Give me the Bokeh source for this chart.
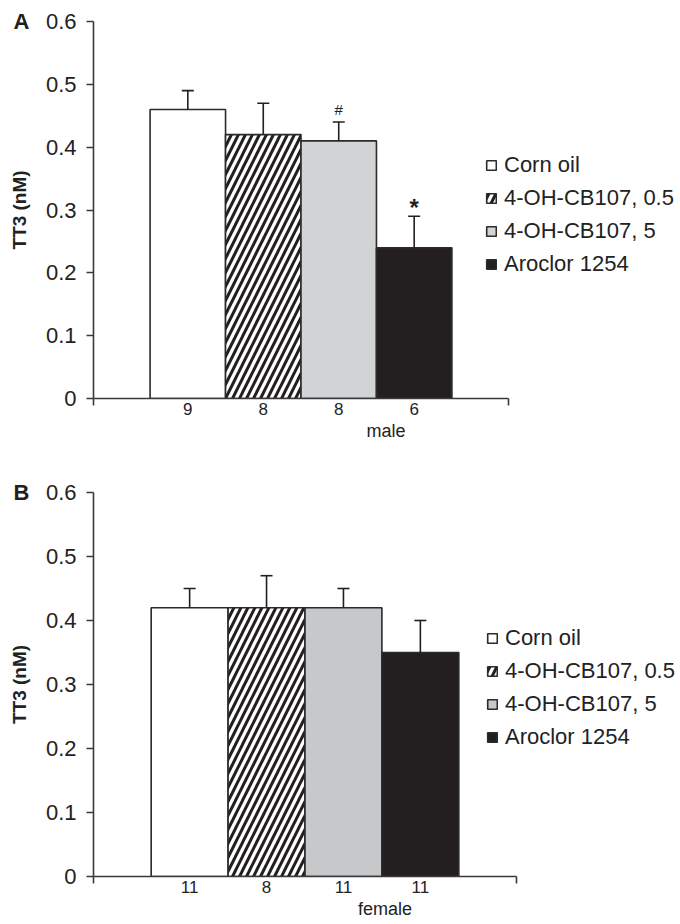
from bokeh.plotting import figure
from bokeh.models import (Range1d, FixedTicker, Legend, LegendItem,
                          LinearAxis, Whisker, TeeHead, ColumnDataSource)
from bokeh.layouts import column
from bokeh.embed import file_html
from bokeh.resources import INLINE
from bokeh.core.properties import value

groups = ["Corn oil", "4-OH-CB107, 0.5", "4-OH-CB107, 5", "Aroclor 1254"]
male_mean = [0.46, 0.42, 0.41, 0.24]
male_se = [0.03, 0.05, 0.03, 0.05]
male_n = ["9", "8", "8", "6"]
male_sig = ["", "", "#", "*"]
female_mean = [0.42, 0.42, 0.42, 0.35]
female_se = [0.03, 0.05, 0.03, 0.05]
female_n = ["11", "8", "11", "11"]
female_sig = ["", "", "", ""]
y_ticks = [0, 0.1, 0.2, 0.3, 0.4, 0.5, 0.6]

FONT = "Liberation Sans"
INK = "#231f20"
AXC = "#3a3a3a"
TXT = "#222222"
FIG_W = 676


def make_panel(letter, sex, mean, se, n, sig, gray, b_top, b_bottom, b_left,
               axis_px, frame_h, legend_xy):
    frame_w = FIG_W - b_left
    n_units = len(groups) + 1.5
    x_end = n_units * frame_w / axis_px
    p = figure(frame_width=frame_w, frame_height=frame_h,
               output_backend="svg", toolbar_location=None,
               x_range=Range1d(0, x_end), y_range=Range1d(0, 0.6),
               min_border_top=b_top, min_border_bottom=b_bottom,
               min_border_left=b_left, min_border_right=0)
    p.outline_line_color = None
    p.xgrid.visible = False
    p.ygrid.visible = False

    xs = [i + 1.25 for i in range(len(groups))]
    fills = ["white", "white", gray, INK]
    hatches = [None, "/", None, None]
    items = []
    for i, g in enumerate(groups):
        kw = dict(fill_color=fills[i], line_color="#2b2b2b", line_width=1.6)
        if hatches[i]:
            kw.update(hatch_pattern=hatches[i], hatch_color=INK,
                      hatch_scale=14, hatch_weight=3)
        r = p.vbar(x=[xs[i]], top=[mean[i]], bottom=0, width=1, **kw)
        items.append(LegendItem(label=g, renderers=[r]))

    upper = [m + s for m, s in zip(mean, se)]
    src = ColumnDataSource(dict(base=xs, lower=mean, upper=upper))
    w = Whisker(source=src, base="base", lower="lower", upper="upper",
                dimension="height", line_color=INK, line_width=1.6,
                lower_head=None,
                upper_head=TeeHead(size=12, line_color=INK, line_width=1.6),
                level="overlay")
    p.add_layout(w)

    hx = [x for x, s in zip(xs, sig) if s == "#"]
    hy = [u for u, s in zip(upper, sig) if s == "#"]
    if hx:
        p.text(x=hx, y=hy, text=["#"] * len(hx), text_align="center",
               text_baseline="bottom", y_offset=-4,
               text_font=value(FONT), text_font_size="15px", text_color=INK)
    sx = [x for x, s in zip(xs, sig) if s == "*"]
    sy = [u for u, s in zip(upper, sig) if s == "*"]
    if sx:
        p.text(x=sx, y=sy, text=["*"] * len(sx), text_align="center",
               text_baseline="bottom", y_offset=5,
               text_font=value(FONT), text_font_size="24px",
               text_font_style="bold", text_color=INK)

    # y axis (values)
    ya = p.yaxis[0]
    ya.ticker = FixedTicker(ticks=y_ticks)
    ya.major_label_overrides = {0: "0"}
    ya.major_label_text_font = FONT
    ya.major_label_text_font_size = "22px"
    ya.major_label_text_color = TXT
    ya.major_tick_out = 7
    ya.major_tick_in = 0
    ya.major_label_standoff = 10
    ya.minor_tick_line_color = None
    ya.axis_line_color = AXC
    ya.axis_line_width = 1.6
    ya.major_tick_line_color = AXC
    ya.major_tick_line_width = 1.6
    ya.axis_label = "TT3 (nM)"
    ya.axis_label_text_font = FONT
    ya.axis_label_text_font_style = "bold"
    ya.axis_label_text_font_size = "19px"
    ya.axis_label_text_color = TXT
    ya.axis_label_standoff = 13

    # outer left axis carrying the panel letter at the top tick
    la = LinearAxis(ticker=FixedTicker(ticks=[y_ticks[-1]]),
                    major_label_overrides={y_ticks[-1]: letter},
                    axis_line_color=None, major_tick_line_color=None,
                    minor_tick_line_color=None, major_tick_out=0,
                    major_tick_in=0, major_label_standoff=-24,
                    major_label_text_font=FONT,
                    major_label_text_font_style="bold",
                    major_label_text_font_size="22px",
                    major_label_text_color=INK)
    p.add_layout(la, "left")

    # x axis
    xa = p.xaxis[0]
    xa.bounds = (0, n_units)
    xa.ticker = FixedTicker(ticks=xs, minor_ticks=[0, n_units])
    xa.major_label_overrides = {x: t for x, t in zip(xs, n)}
    xa.major_label_text_font = FONT
    xa.major_label_text_font_size = "17px"
    xa.major_label_text_color = TXT
    xa.major_tick_line_color = None
    xa.major_tick_out = 0
    xa.major_tick_in = 0
    xa.major_label_standoff = -3
    xa.minor_tick_out = 7
    xa.minor_tick_in = 0
    xa.minor_tick_line_color = AXC
    xa.minor_tick_line_width = 1.6
    xa.axis_line_color = AXC
    xa.axis_line_width = 1.6
    xa.axis_label = sex
    xa.axis_label_text_font = FONT
    xa.axis_label_text_font_style = "normal"
    xa.axis_label_text_font_size = "18px"
    xa.axis_label_text_color = TXT
    xa.axis_label_standoff = 3

    leg = Legend(items=items, location=legend_xy, padding=0, margin=0,
                 border_line_color=None, background_fill_alpha=0,
                 glyph_width=12, glyph_height=12, label_height=21,
                 spacing=7, label_standoff=7,
                 label_text_font=FONT, label_text_font_size="22px",
                 label_text_color=TXT)
    p.add_layout(leg)
    return p


pA = make_panel("A", "male", male_mean, male_se, male_n, male_sig,
                "#d1d3d4", 21, 52, 91, 415, 377, (396, 121))
pB = make_panel("B", "female", female_mean, female_se, female_n, female_sig,
                "#c7c8c9", 42, 40, 93, 423, 384, (393, 126))

layout = column(pA, pB, spacing=0)
open("out.html", "w").write(file_html(layout, INLINE))
